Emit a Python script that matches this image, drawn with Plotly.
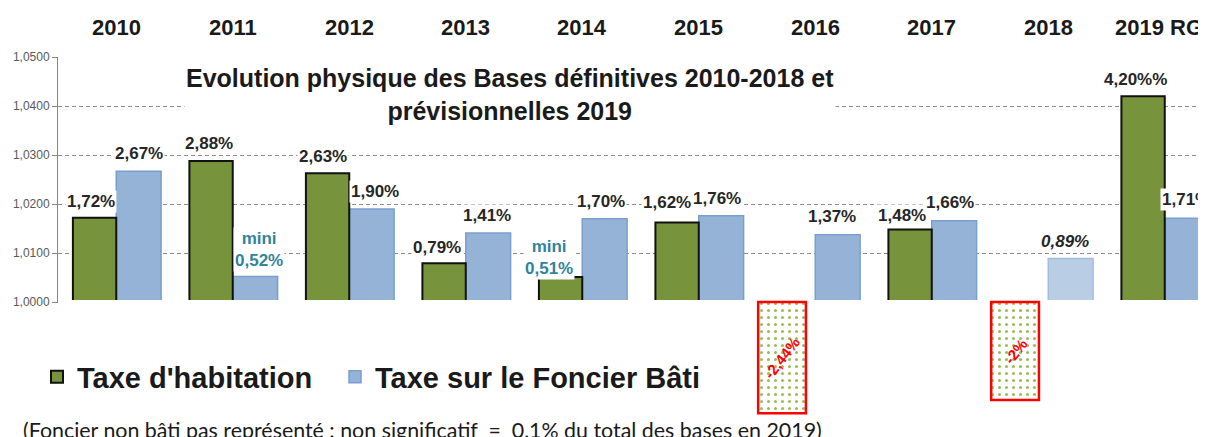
import plotly.graph_objects as go

# ---------------- data ----------------
annees = ["2010", "2011", "2012", "2013", "2014", "2015", "2016", "2017", "2018", "2019 RG"]
taxe_habitation = [1.72, 2.88, 2.63, 0.79, 0.51, 1.62, -2.44, 1.48, -2.00, 4.20]   # % evolution
foncier_bati = [2.67, 0.52, 1.90, 1.41, 1.70, 1.76, 1.37, 1.66, 0.89, 1.71]        # % evolution
encadre_baisse = [None, None, None, None, None, None, -2.27, None, -2.00, None]    # depth of red boxes as drawn (%)
y_ticks = [1.0, 1.01, 1.02, 1.03, 1.04, 1.05]

titre = "Evolution physique des Bases définitives 2010-2018 et<br>prévisionnelles 2019"
note = "(Foncier non bâti pas représenté : non significatif \u00a0=\u00a0 0,1% du total des bases en 2019)"

# ---------------- helpers ----------------
SW, SH = 1206, 437          # screen size
OFF = 8                     # page body margin
W, H = SW - OFF, SH - OFF   # figure size
L = 58                      # screen x of the y axis
FONT = "Liberation Sans, Arial, sans-serif"


def pct(v):
    return f"{v:.2f}".replace(".", ",") + "%"


def py(p):  # screen pixel y -> paper fraction
    return 1 - (p - OFF) / H


def px(p):  # screen pixel x -> paper fraction
    return (p - OFF) / W


x_range = [-0.5, -0.5 + (SW - L) / 116.5]

GREEN = "#77933c"
BLUE = "#95b3d7"
BLUE_LIGHT = "#b9cde5"
TEAL = "#31849b"
DARK = "#262626"

fb_colors = [BLUE_LIGHT if a == "2018" else BLUE for a in annees]
fb_lines = ["#a3bddf" if a == "2018" else "#7a9fcf" for a in annees]

fig = go.Figure()

fig.add_trace(go.Bar(
    name="Taxe sur le Foncier Bâti", x=annees, y=[v / 100 for v in foncier_bati], base=1,
    offset=0.0, width=0.385, legendrank=2, legendwidth=340,
    marker=dict(color=fb_colors, line=dict(color=fb_lines, width=1.5)),
))
fig.add_trace(go.Bar(
    name="Taxe d'habitation", x=annees, y=[v / 100 for v in taxe_habitation], base=1,
    offset=-0.372, width=0.372, legendrank=1, legendwidth=253,
    marker=dict(color=GREEN, line=dict(color="#111111", width=2)),
))
fig.add_trace(go.Bar(
    x=annees, y=encadre_baisse, xaxis="x2", yaxis="y2", showlegend=False,
    offset=-0.49, width=0.41,
    marker=dict(color="white",
                pattern=dict(shape=".", fgcolor="#9bbb59", bgcolor="white", size=7,
                             solidity=0.15, fillmode="replace"),
                line=dict(color="#ff0000", width=2.5)),
))

annotations = []

# year labels at top
for i, a in enumerate(annees):
    annotations.append(dict(x=i, xref="x", y=py(28), yref="paper", text=a, showarrow=False,
                            xshift=-6 if a == "2019 RG" else 0,
                            yanchor="middle", font=dict(family=FONT, size=22, color="#1a1a1a", weight="bold")))

# bar labels (offsets in px: dx, dy above bar top)
th_off = [(-25, 16), (-24, 17), (-26, 17), (-29, 16), (-33, 20), (-32, 20), None, (-30, 14), None, (-29, 17)]
fb_off = [(23, 18), (26, 27), (26, 17), (21, 17), (19, 17), (18, 17), (17, 18), (18, 18), (17, 17), (21, 19)]

for i, (a, v, off) in enumerate(zip(annees, taxe_habitation, th_off)):
    if off is None:
        continue
    txt, col = pct(v), DARK
    if a == "2014":
        txt, col = "mini<br>" + pct(v), TEAL
    if a == "2019 RG":
        txt = pct(v) + "%"
    annotations.append(dict(x=i, xref="x", y=1 + v / 100, yref="y", text=txt, showarrow=False,
                            xshift=off[0], yshift=off[1], yanchor="middle", bgcolor="white",
                            borderpad=1,
                            font=dict(family=FONT, size=17, color=col, weight="bold")))

for i, (a, v, off) in enumerate(zip(annees, foncier_bati, fb_off)):
    txt, col, style = pct(v), DARK, "normal"
    if a == "2011":
        txt, col = "mini<br>" + pct(v), TEAL
    if a == "2018":
        style = "italic"
    annotations.append(dict(x=i, xref="x", y=1 + v / 100, yref="y", text=txt, showarrow=False,
                            xshift=off[0], yshift=off[1], yanchor="middle", bgcolor="white",
                            borderpad=1,
                            font=dict(family=FONT, size=17, color=col, weight="bold", style=style)))

# red-box labels
for i, (a, v, d) in enumerate(zip(annees, taxe_habitation, encadre_baisse)):
    if d is None:
        continue
    txt = (f"{v:.2f}".replace(".", ",") if abs(v - round(v)) > 1e-9 else f"{int(round(v))}") + "%"
    annotations.append(dict(x=i, xref="x2", y=d / 2, yref="y2", text=txt, showarrow=False,
                            xshift=-33, textangle=-52,
                            font=dict(family=FONT, size=15, color="#ff0000", weight="bold")))

# title
annotations.append(dict(x=px(510), xref="paper", y=py(94), yref="paper", text=titre,
                        showarrow=False, yanchor="middle", bgcolor="white",
                        font=dict(family=FONT, size=25, color="#1a1a1a", weight="bold")))
# note
annotations.append(dict(x=px(21), xref="paper", y=py(430), yref="paper", text=note,
                        showarrow=False, xanchor="left", yanchor="middle",
                        font=dict(family="Lato, sans-serif", size=21.4, color="#1a1a1a")))

fig.update_layout(
    template="none",
    width=W, height=H,
    margin=dict(l=0, r=0, t=0, b=0, autoexpand=False),
    paper_bgcolor="white", plot_bgcolor="white",
    barmode="overlay",
    showlegend=True,
    legend=dict(orientation="h", x=px(37), xanchor="left", y=py(377), yanchor="middle",
                font=dict(family=FONT, size=29, color="#1a1a1a", weight="bold"),
                bgcolor="rgba(0,0,0,0)", borderwidth=0, traceorder="normal"),
    xaxis=dict(domain=[px(L), 1], type="category", categoryorder="array", categoryarray=annees,
               range=x_range, anchor="y", showline=True, linecolor="#868686", linewidth=1,
               ticks="outside", tickson="boundaries", ticklen=5, tickcolor="#868686",
               showticklabels=False, showgrid=False, zeroline=False, automargin=False),
    yaxis=dict(domain=[py(302), py(57)], range=[1.0, 1.05], anchor="x",
               tickvals=y_ticks, ticktext=[f"{t:.4f}".replace(".", ",") for t in y_ticks],
               showline=True, linecolor="#868686", linewidth=1, ticks="outside", ticklen=5,
               tickcolor="#868686", showgrid=True, gridcolor="#8c8c8c", griddash="4px,3px",
               gridwidth=1, zeroline=False, automargin=False,
               tickfont=dict(family=FONT, size=12, color="#595959")),
    xaxis2=dict(domain=[px(L), 1], type="category", categoryorder="array", categoryarray=annees,
                range=x_range, anchor="y2", visible=False),
    yaxis2=dict(domain=[py(425), py(300)], range=[-(425 - 302) / 49, (302 - 300) / 49],
                anchor="x2", visible=False),
    annotations=annotations,
)

fig.write_html("out.html")
